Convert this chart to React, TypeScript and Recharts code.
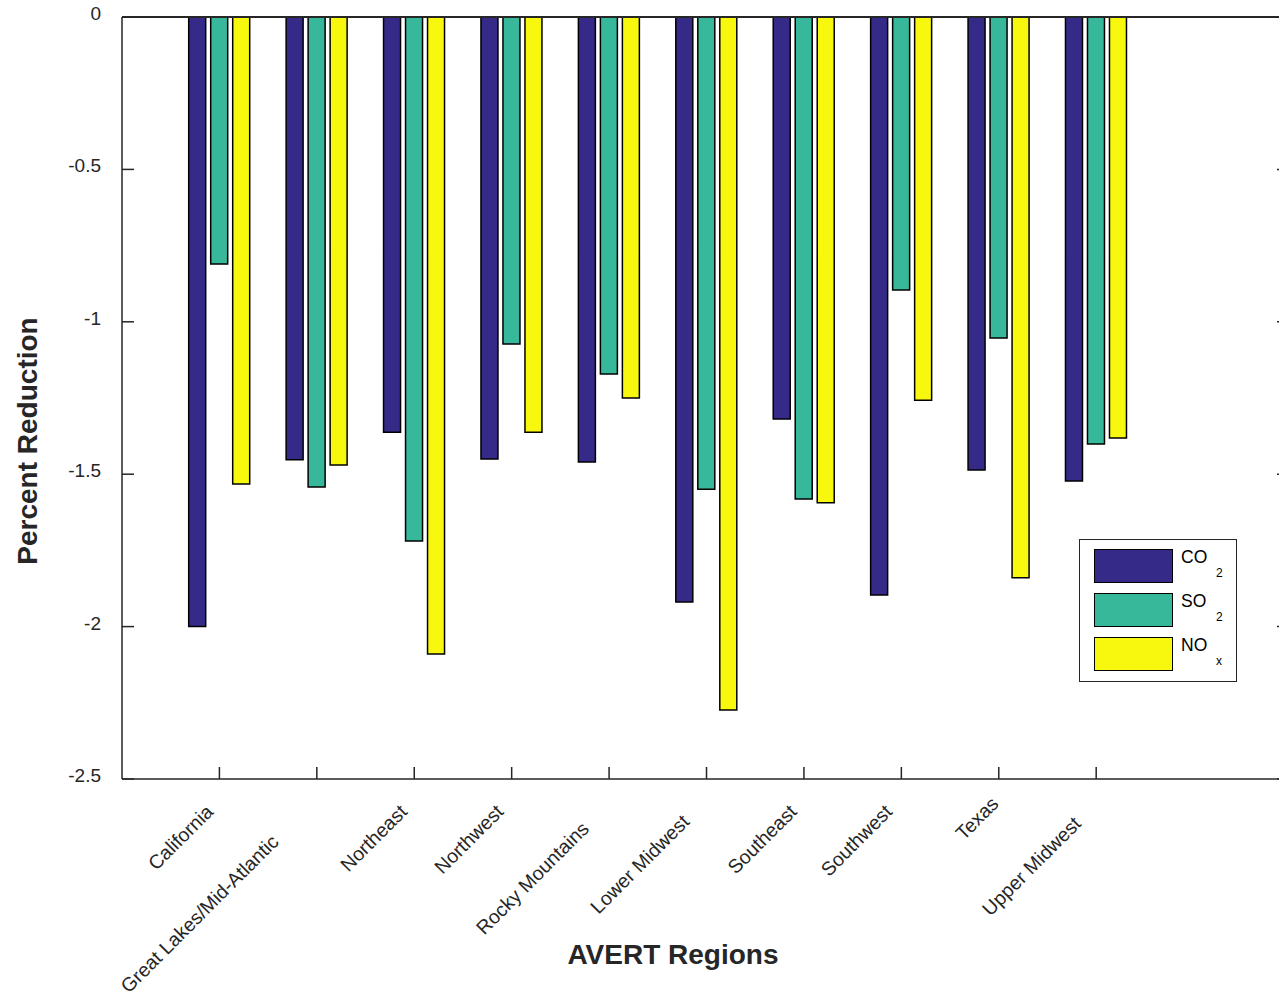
import { BarChart, Bar, XAxis, YAxis, ReferenceLine, Legend } from 'recharts';

const regions = [
  'California',
  'Great Lakes/Mid-Atlantic',
  'Northeast',
  'Northwest',
  'Rocky Mountains',
  'Lower Midwest',
  'Southeast',
  'Southwest',
  'Texas',
  'Upper Midwest',
];
const co2 = [-2.0, -1.453, -1.362, -1.45, -1.46, -1.919, -1.319, -1.896, -1.486, -1.522];
const so2 = [-0.81, -1.542, -1.719, -1.073, -1.171, -1.549, -1.581, -0.896, -1.053, -1.401];
const nox = [-1.532, -1.47, -2.09, -1.362, -1.25, -2.274, -1.594, -1.257, -1.84, -1.381];
const yTicks = [0, -0.5, -1, -1.5, -2, -2.5];

// nudges for the slanted region names, measured from each tick
const labelShift: [number, number][] = [
  [-5, 34], [-37, 64], [-6, 34], [-7, 34], [-19, 51],
  [-16, 44], [-6, 34], [-8, 34], [1, 26], [-14, 46],
];

const series = [
  { key: 'co2', base: 'CO', sub: '2', color: '#352a87' },
  { key: 'so2', base: 'SO', sub: '2', color: '#38b89b' },
  { key: 'nox', base: 'NO', sub: 'x', color: '#f8f80f' },
];

const data = regions.map((region, i) => ({ region, co2: co2[i], so2: so2[i], nox: nox[i] }));

const INK = '#262626';
const FONT = '"Liberation Sans", Arial, Helvetica, sans-serif';
const CHART_W = 1291;
const PLOT_RIGHT = 1291;

function YTick(props: any) {
  const { x, y, payload } = props;
  return (
    <g>
      <line x1={x} y1={y} x2={x + 12} y2={y} stroke={INK} strokeWidth={1.5} />
      <line x1={PLOT_RIGHT - 14} y1={y} x2={PLOT_RIGHT} y2={y} stroke={INK} strokeWidth={1.5} />
      <text x={x - 21} y={y + 3} textAnchor="end" fontSize={19} fontFamily={FONT} fill={INK}>
        {payload.value}
      </text>
    </g>
  );
}

function XTick(props: any) {
  const { x, y, payload, index } = props;
  const [dx, dy] = labelShift[index] || [0, 30];
  return (
    <g>
      <line x1={x} y1={y} x2={x} y2={y - 12} stroke={INK} strokeWidth={1.5} />
      <text
        transform={`translate(${x + dx},${y + dy}) rotate(-45)`}
        textAnchor="end"
        fontSize={19.5}
        fontFamily={FONT}
        fill={INK}
      >
        {payload.value}
      </text>
    </g>
  );
}

function LegendBox() {
  return (
    <div
      style={{
        position: 'relative',
        width: 158,
        height: 143,
        boxSizing: 'border-box',
        border: `1.5px solid ${INK}`,
        background: '#fff',
        fontFamily: FONT,
        color: '#000',
      }}
    >
      {series.map((s, i) => (
        <div key={s.key}>
          <div
            style={{
              position: 'absolute',
              left: 14,
              top: 9 + i * 44,
              width: 79,
              height: 34,
              boxSizing: 'border-box',
              background: s.color,
              border: '1.5px solid #000',
            }}
          />
          <span style={{ position: 'absolute', left: 101, top: 7 + i * 44, fontSize: 17.5, lineHeight: '20px' }}>
            {s.base}
          </span>
          <span style={{ position: 'absolute', left: 136, top: 26 + i * 44, fontSize: 12, lineHeight: '14px' }}>
            {s.sub}
          </span>
        </div>
      ))}
    </div>
  );
}

export default function App() {
  return (
    <div
      style={{
        position: 'absolute',
        left: 0,
        top: 0,
        width: 1279,
        height: 996,
        overflow: 'hidden',
        background: '#fff',
      }}
    >
      <BarChart
        width={CHART_W}
        height={996}
        data={data}
        margin={{ top: 17, right: 0, left: 0, bottom: 0 }}
        barSize={17}
        barGap={5}
      >
        <XAxis
          dataKey="region"
          height={217}
          interval={0}
          tickSize={0}
          tickMargin={0}
          tickLine={false}
          axisLine={{ stroke: INK, strokeWidth: 1.5 }}
          padding={{ left: 48.7, right: 146.1 }}
          tick={<XTick />}
        />
        <YAxis
          width={122}
          domain={[-2.5, 0]}
          ticks={yTicks}
          interval={0}
          tickSize={0}
          tickMargin={0}
          tickLine={false}
          axisLine={{ stroke: INK, strokeWidth: 1.5 }}
          tick={<YTick />}
          allowDataOverflow
        />
        <Legend
          layout="vertical"
          align="center"
          verticalAlign="middle"
          wrapperStyle={{ position: 'absolute', left: 1079, top: 539, width: 158, height: 143 }}
          content={() => <LegendBox />}
        />
        {series.map((s) => (
          <Bar
            key={s.key}
            dataKey={s.key}
            name={s.base + s.sub}
            fill={s.color}
            stroke="#000"
            strokeWidth={1.5}
            isAnimationActive={false}
          />
        ))}
        <ReferenceLine y={0} stroke={INK} strokeWidth={2} ifOverflow="extendDomain" />
        <text
          transform="translate(37,441) rotate(-90)"
          textAnchor="middle"
          fontSize={28}
          fontWeight="bold"
          fontFamily={FONT}
          fill={INK}
        >
          Percent Reduction
        </text>
        <text x={673} y={964} textAnchor="middle" fontSize={28} fontWeight="bold" fontFamily={FONT} fill={INK}>
          AVERT Regions
        </text>
      </BarChart>
    </div>
  );
}
